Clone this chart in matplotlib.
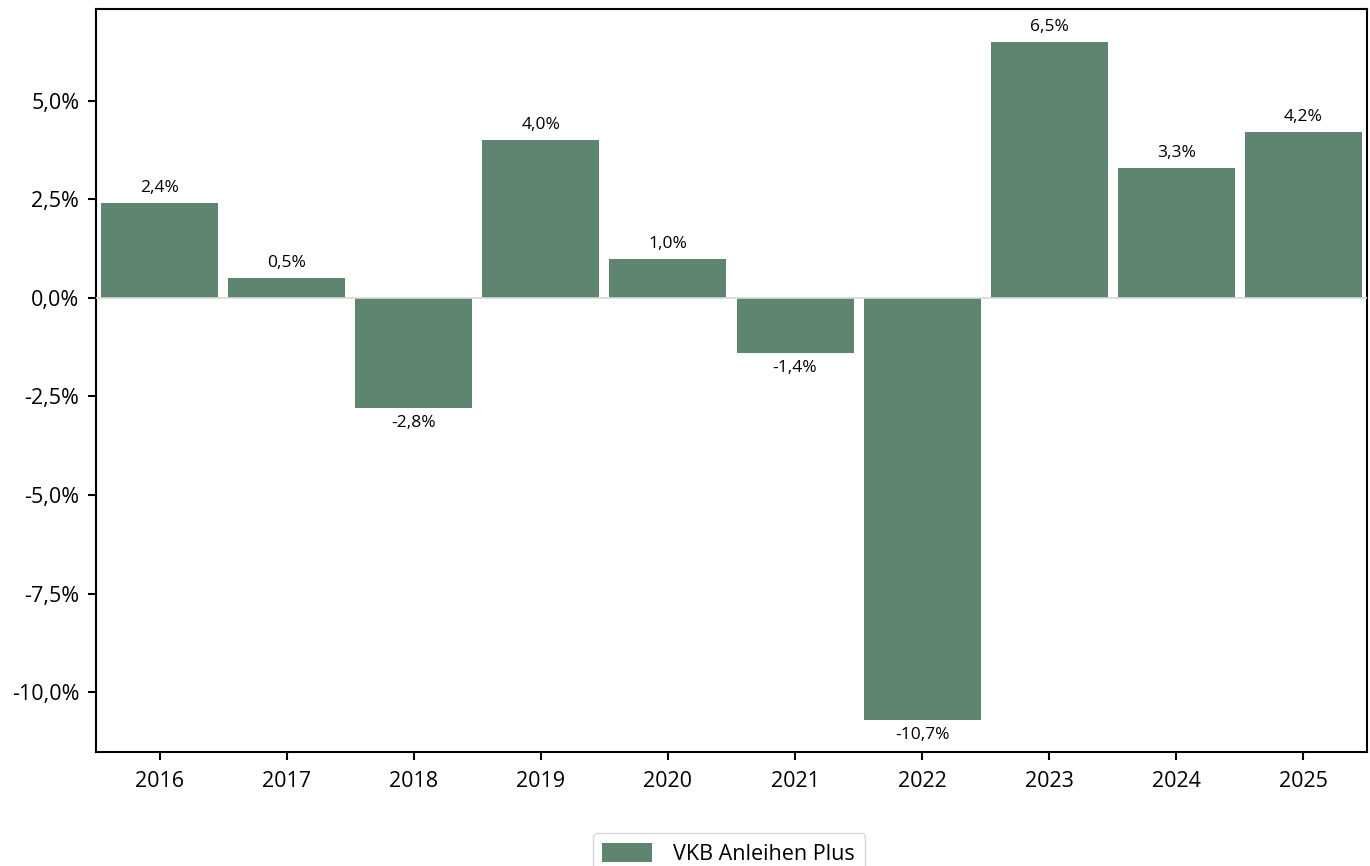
import numpy as np
import matplotlib.pyplot as plt
from matplotlib.ticker import FuncFormatter

years = ["2016", "2017", "2018", "2019", "2020", "2021", "2022", "2023", "2024", "2025"]
returns = [2.4, 0.5, -2.8, 4.0, 1.0, -1.4, -10.7, 6.5, 3.3, 4.2]
series_name = "VKB Anleihen Plus"
bar_color = "#5e8570"


def pct(v, pos=None):
    return f"{v:.1f}%".replace(".", ",")


def main():
    plt.rcParams['font.family'] = ['Open Sans', 'DejaVu Sans']
    fig = plt.figure(figsize=(13.7, 8.66), dpi=100)
    ax = fig.add_axes([96 / 1370, 1 - 752 / 866, (1367 - 96) / 1370, (752 - 9) / 866])

    x = np.arange(len(years))
    bars = ax.bar(x, returns, width=0.92, color=bar_color, label=series_name, zorder=2)
    ax.axhline(0, color="#d9d9d9", linewidth=1.2, zorder=3)

    for rect, v in zip(bars, returns):
        cx = rect.get_x() + rect.get_width() / 2
        if v >= 0:
            ax.annotate(pct(v), (cx, v), xytext=(0, 5), textcoords="offset points",
                        ha="center", va="bottom", fontsize=12.5)
        else:
            ax.annotate(pct(v), (cx, v), xytext=(0, -5), textcoords="offset points",
                        ha="center", va="top", fontsize=12.5)

    ax.set_xlim(-0.5, 9.5)
    ax.set_ylim(-11.52, 7.33)
    ax.set_xticks(x)
    ax.set_xticklabels(years)
    ax.set_yticks([5.0, 2.5, 0.0, -2.5, -5.0, -7.5, -10.0])
    ax.yaxis.set_major_formatter(FuncFormatter(pct))
    ax.tick_params(labelsize=15.5, length=6, width=1.5)
    ax.tick_params(axis="x", pad=8)
    ax.tick_params(axis="y", pad=6)
    for sp in ax.spines.values():
        sp.set_linewidth(1.5)

    fig.legend(loc="upper center", bbox_to_anchor=(0.532, 0.05), fontsize=15.5,
               frameon=True, fancybox=True, edgecolor="#cccccc", handlelength=2.3,
               handleheight=1.0, handletextpad=1.0, borderpad=0.45)

    fig.savefig("out.png", dpi=100)


if __name__ == "__main__":
    main()
